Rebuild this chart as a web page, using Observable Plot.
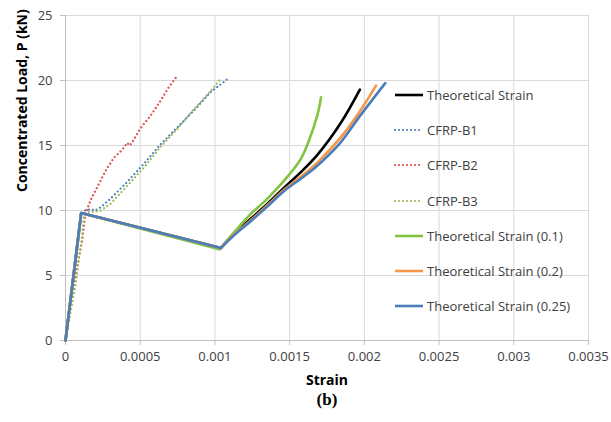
<!DOCTYPE html>
<html><head><meta charset="utf-8">
<script src="https://cdn.jsdelivr.net/npm/d3@7"></script>
<script src="https://cdn.jsdelivr.net/npm/@observablehq/plot@0.6"></script>
<style>
body{margin:0;background:#fff;}
#wrap{position:relative;width:611px;height:422px;font-family:"Open Sans",sans-serif;}
#legend{position:absolute;left:394px;top:0;}
.row{position:absolute;left:0;display:flex;align-items:center;white-space:nowrap;font-size:13px;color:#404040;height:20px;}
.row svg{margin-right:3px;}
</style></head><body><div id="wrap"></div>
<script>
// ---- data (strain, load kN) ----
const theoStrain   = [0, 0.000105, 0.00104, 0.001128, 0.00124, 0.00135, 0.001463, 0.001575, 0.001687, 0.001843, 0.00197];
const theoLoad     = [0, 9.8, 7.12, 8.2, 9.36, 10.5, 11.75, 12.95, 14.3, 16.75, 19.3];
const b1Strain     = [0, 0.00006, 0.000105, 0.00013, 0.000168, 0.0002, 0.000235, 0.0003, 0.000413, 0.000525, 0.000637, 0.000749, 0.00086, 0.00097, 0.0011];
const b1Load       = [0, 5.0, 9.6, 10.0, 10.1, 10.0, 10.25, 10.9, 12.2, 13.6, 15.1, 16.4, 17.7, 19.1, 20.25];
const b2Strain     = [0, 0.000067, 0.000112, 0.000134, 0.000168, 0.00019, 0.000235, 0.00028, 0.000328, 0.00038, 0.000413, 0.00043, 0.000447, 0.0005, 0.00057, 0.000637, 0.000692, 0.000744];
const b2Load       = [0, 5.0, 7.7, 9.77, 10.8, 11.3, 12.3, 13.3, 14.1, 14.67, 15.2, 15.0, 15.25, 16.3, 17.3, 18.46, 19.5, 20.3];
const b3Strain     = [0, 0.00007, 0.00011, 0.000123, 0.00015, 0.00019, 0.000235, 0.0003, 0.000413, 0.000525, 0.000637, 0.00075, 0.00086, 0.00095, 0.00103];
const b3Load       = [0, 4.5, 8.0, 9.5, 9.9, 9.9, 10.0, 10.5, 11.9, 13.3, 14.9, 16.3, 17.8, 18.9, 20.0];
const t01Strain    = [0, 0.000105, 0.00103, 0.00124, 0.00135, 0.0015, 0.001575, 0.00163, 0.001687, 0.00171];
const t01Load      = [0, 9.8, 7.02, 9.74, 10.9, 12.8, 13.97, 15.4, 17.4, 18.7];
const t02Strain    = [0, 0.000105, 0.00104, 0.001128, 0.00124, 0.00135, 0.001463, 0.001575, 0.001687, 0.001843, 0.001966, 0.002078];
const t02Load      = [0, 9.8, 7.12, 8.15, 9.25, 10.4, 11.6, 12.6, 13.7, 15.64, 17.56, 19.6];
const t025Strain   = [0, 0.000105, 0.00104, 0.001128, 0.00124, 0.00135, 0.001463, 0.001575, 0.001687, 0.001843, 0.001966, 0.00214];
const t025Load     = [0, 9.8, 7.12, 8.1, 9.18, 10.3, 11.5, 12.44, 13.46, 15.26, 17.2, 19.8];

const seriesNames  = ["Theoretical Strain", "CFRP-B1", "CFRP-B2", "CFRP-B3", "Theoretical Strain (0.1)", "Theoretical Strain (0.2)", "Theoretical Strain (0.25)"];
const seriesColors = ["#000000", "#4F81BD", "#DE4D4A", "#9BBB59", "#82C341", "#F79646", "#4A7EBB"];
const seriesDotted = [false, true, true, true, false, false, false];
const seriesX      = [theoStrain, b1Strain, b2Strain, b3Strain, t01Strain, t02Strain, t025Strain];
const seriesY      = [theoLoad, b1Load, b2Load, b3Load, t01Load, t02Load, t025Load];

const xTicks = [0, 0.0005, 0.001, 0.0015, 0.002, 0.0025, 0.003, 0.0035];
const yTicks = [0, 5, 10, 15, 20, 25];

const lineMarks = seriesNames.flatMap((name, i) => {
  const rows = seriesX[i].map((s, j) => ({strain: s, load: seriesY[i][j]}));
  if (seriesDotted[i]) {
    return [Plot.line(rows, {x: "strain", y: "load", stroke: seriesColors[i], strokeWidth: 2.2, strokeDasharray: "0.01 4", strokeLinecap: "round"})];
  }
  // elastic part and post-cracking drop are straight; the rising branch is smooth
  const solid = {x: "strain", y: "load", stroke: seriesColors[i], strokeWidth: 2.6, strokeLinejoin: "round", strokeLinecap: "round"};
  return [
    Plot.line(rows.slice(0, 3), {...solid, curve: "linear"}),
    Plot.line(rows.slice(2), {...solid, curve: "catmull-rom"})
  ];
});

const plot = Plot.plot({
  width: 611, height: 422,
  marginLeft: 65, marginRight: 23, marginTop: 15, marginBottom: 82,
  style: {fontFamily: "Open Sans", fontSize: "13px", color: "#404040", background: "#fff", overflow: "visible"},
  x: {domain: [0, 0.0035]},
  y: {domain: [0, 25]},
  marks: [
    Plot.gridX(xTicks, {stroke: "#d9d9d9", strokeOpacity: 1}),
    Plot.gridY(yTicks, {stroke: "#d9d9d9", strokeOpacity: 1}),
    Plot.ruleY([0], {stroke: "#bfbfbf"}),
    Plot.ruleX([0], {stroke: "#bfbfbf"}),
    Plot.axisX(xTicks, {tickSize: 5, tickPadding: 6, stroke: "#bfbfbf", fill: "#404040", label: null, tickFormat: d => String(d)}),
    Plot.axisY(yTicks, {tickSize: 5, tickPadding: 8, stroke: "#bfbfbf", fill: "#404040", label: null, tickFormat: d => String(d)}),
    ...lineMarks,
    Plot.text(["Strain"], {frameAnchor: "bottom", dy: 44, fontWeight: "bold", fontSize: 14, fill: "#000"}),
    Plot.text(["(b)"], {frameAnchor: "bottom", dy: 64, fontFamily: "Liberation Serif", fontWeight: "bold", fontSize: 17, fill: "#000"}),
    Plot.text(["Concentrated Load, P (kN)"], {frameAnchor: "left", rotate: -90, dx: -43, dy: 14, fontWeight: "bold", fontSize: 14, fill: "#000"})
  ]
});

const wrap = document.getElementById("wrap");
wrap.appendChild(plot);

const legend = document.createElement("div");
legend.id = "legend";
seriesNames.forEach((name, i) => {
  const row = document.createElement("div");
  row.className = "row";
  row.style.top = (95 + i * 35.2 - 10) + "px";
  const dash = seriesDotted[i] ? 'stroke-dasharray="0.01 4" stroke-linecap="round" stroke-width="2.2"' : 'stroke-width="2.6"';
  row.innerHTML = `<svg width="30" height="20"><line x1="1" x2="29" y1="10" y2="10" stroke="${seriesColors[i]}" ${dash}/></svg><span>${name}</span>`;
  legend.appendChild(row);
});
wrap.appendChild(legend);
</script>
</body></html>
